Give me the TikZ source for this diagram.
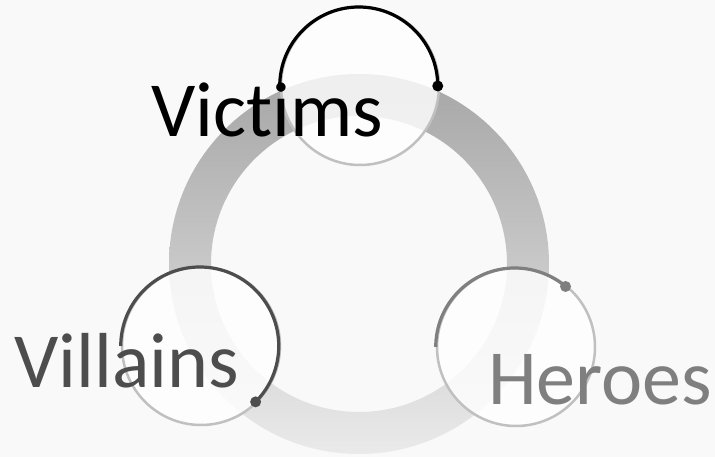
\documentclass[tikz,border=0pt]{standalone}
\usepackage{fontspec}
\setmainfont{Carlito}[RawFeature={-liga;-clig;-dlig;-calt}]
\usetikzlibrary{positioning,calc}

\definecolor{bgcol}{RGB}{249,249,249}
\definecolor{ringtop}{RGB}{166,166,166}
\definecolor{ringbot}{RGB}{234,234,234}
\definecolor{rimcol}{RGB}{192,192,192}
\definecolor{villcol}{RGB}{77,77,77}
\definecolor{herocol}{RGB}{127,127,127}

\begin{document}
\begin{tikzpicture}[x=1pt, y=1pt,
    role/.style={draw=rimcol, line width=2.5pt, circle, fill=white, fill opacity=0.82, draw opacity=1, minimum size=158pt, inner sep=0pt},
    word/.style={anchor=base west, inner sep=0pt, font=\fontsize{78}{80}\selectfont},
    track/.style={line width=3.2pt}]
  \useasboundingbox[fill=bgcol] (0,0) rectangle (715,457);

  % cycle ring
  \coordinate (Hub) at (359,193);
  \shade[even odd rule, top color=ringtop, bottom color=ringbot] (Hub) circle (190) (Hub) circle (148);

  % the three roles
  \node[role] (Vict) at (360,371) {};
  \node[role] (Vill) at (201,111) {};
  \node[role] (Hero) at (516,110) {};

  \draw[track, black] (Vict.west) arc[start angle=180, end angle=0, radius=79] coordinate (VictEnd);
  \fill[black] (VictEnd) circle (5.5);

  \draw[track, villcol] (Vill.west) arc[start angle=180, end angle=-45, radius=79] coordinate (VillEnd);
  \fill[villcol] (VillEnd) circle (5.5);

  \draw[track, herocol] (Hero.west) arc[start angle=180, end angle=50, radius=79] coordinate (HeroEnd);
  \fill[herocol] (HeroEnd) circle (5.5);

  \node[word, text=black] (VictText) at (151,320) {Vict\kern0pt ims};
  \node[word, text=villcol] (VillText) at (14,69) {Villains};
  \node[word, text=herocol] (HeroText) at (488,52) {Heroes};
\end{tikzpicture}
\end{document}
